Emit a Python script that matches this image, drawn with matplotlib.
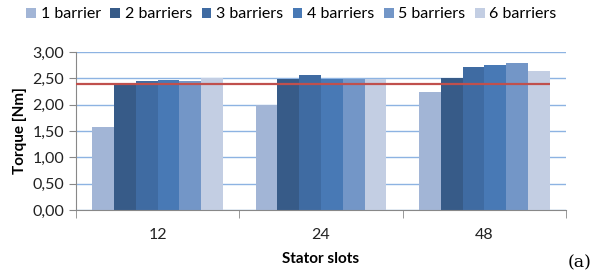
import numpy as np
import matplotlib.pyplot as plt
from matplotlib.ticker import FuncFormatter

# values
slots = ["12", "24", "48"]
series = ["1 barrier", "2 barriers", "3 barriers", "4 barriers", "5 barriers", "6 barriers"]
torque = [
    [1.57, 2.00, 2.24],
    [2.41, 2.49, 2.51],
    [2.45, 2.56, 2.71],
    [2.46, 2.49, 2.76],
    [2.45, 2.49, 2.79],
    [2.51, 2.49, 2.64],
]
reference_torque = 2.39

colors = ["#A2B5D6", "#375B88", "#3F6BA2", "#4879B5", "#7396C7", "#C3CEE3"]

plt.rcParams['font.family'] = ['Lato', 'DejaVu Sans']

fig = plt.figure(figsize=(5.95, 2.75), dpi=100)
ax = fig.add_axes([76 / 595, 1 - 210 / 275, 490 / 595, 158 / 275])

n = len(series)
bar_w = 1 / 7.5
x = np.arange(len(slots))
for i, (name, vals) in enumerate(zip(series, torque)):
    offs = (i - (n - 1) / 2) * bar_w
    ax.bar(x + offs, vals, width=bar_w, color=colors[i], label=name, zorder=2)

ax.hlines(reference_torque, -0.5, 2.4, color="#C0504D", lw=1.6, zorder=3)

ax.set_xlim(-0.5, 2.5)
ax.set_ylim(0, 3)
ax.set_yticks(np.arange(0, 3.01, 0.5))
ax.yaxis.set_major_formatter(FuncFormatter(lambda v, p: f"{v:.2f}".replace(".", ",")))
ax.grid(axis="y", color="#8DB3E2", lw=1.0, zorder=0)
ax.set_axisbelow(True)

ax.set_xticks(x)
ax.set_xticklabels(slots)
ax.set_xticks([-0.5, 0.5, 1.5, 2.5], minor=True)
ax.tick_params(axis="x", which="major", length=0, pad=13, labelsize=11.5, colors="#222222")
ax.tick_params(axis="x", which="minor", length=6, color="#888888", direction="out")
ax.tick_params(axis="y", length=5, color="#888888", labelsize=11.5, labelcolor="#222222")

for s in ["top", "right"]:
    ax.spines[s].set_visible(False)
for s in ["left", "bottom"]:
    ax.spines[s].set_color("#888888")

ax.set_ylabel("Torque [Nm]", fontweight="bold", fontsize=11, labelpad=4)
ax.set_xlabel("Stator slots", fontweight="bold", fontsize=11, labelpad=7)

fig.legend(loc="upper left", bbox_to_anchor=(12 / 595, 1.025), ncol=6, frameon=False,
           fontsize=11.5, handlelength=0.6, handleheight=0.6, handletextpad=0.3,
           columnspacing=0.6)

fig.text(568 / 595, 1 - 263 / 275, "(a)", family="DejaVu Serif", fontsize=12.5, va="center")

fig.savefig("out.png", dpi=100)
